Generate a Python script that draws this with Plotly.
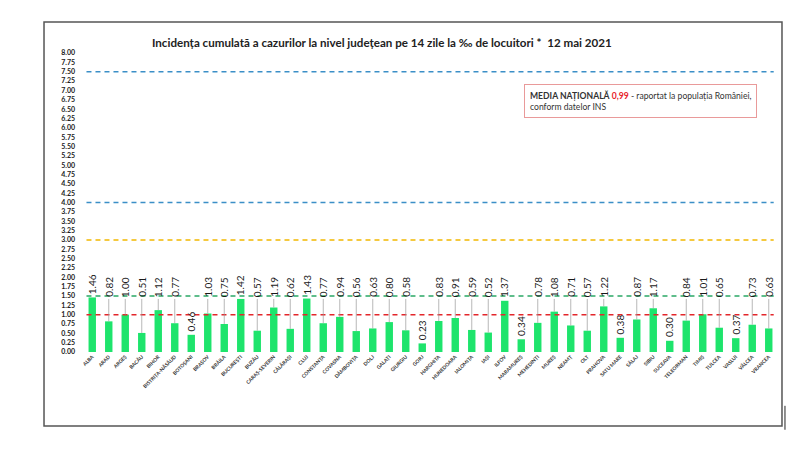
import plotly.graph_objects as go

judete = ['ALBA', 'ARAD', 'ARGEȘ', 'BACĂU', 'BIHOR', 'BISTRIȚA-NĂSĂUD', 'BOTOȘANI',
          'BRAȘOV', 'BRĂILA', 'BUCUREȘTI', 'BUZĂU', 'CARAȘ-SEVERIN', 'CĂLĂRAȘI', 'CLUJ',
          'CONSTANȚA', 'COVASNA', 'DÂMBOVIȚA', 'DOLJ', 'GALAȚI', 'GIURGIU', 'GORJ',
          'HARGHITA', 'HUNEDOARA', 'IALOMIȚA', 'IAȘI', 'ILFOV', 'MARAMUREȘ', 'MEHEDINȚI',
          'MUREȘ', 'NEAMȚ', 'OLT', 'PRAHOVA', 'SATU MARE', 'SĂLAJ', 'SIBIU', 'SUCEAVA',
          'TELEORMAN', 'TIMIȘ', 'TULCEA', 'VASLUI', 'VÂLCEA', 'VRANCEA']

incidenta = [1.46, 0.82, 1.00, 0.51, 1.12, 0.77, 0.46, 1.03, 0.75, 1.42, 0.57, 1.19,
             0.62, 1.43, 0.77, 0.94, 0.56, 0.63, 0.80, 0.58, 0.23, 0.83, 0.91, 0.59,
             0.52, 1.37, 0.34, 0.78, 1.08, 0.71, 0.57, 1.22, 0.38, 0.87, 1.17, 0.30,
             0.84, 1.01, 0.65, 0.37, 0.73, 0.63]

# praguri orizontale (valoare, culoare)
praguri = [(7.5, '#3b8fc7'), (4.0, '#3b8fc7'), (3.0, '#f2b800'), (1.5, '#2aa866'), (1.0, '#e3262b')]

media_nationala = '0,99'
y_ticks = [i * 0.25 for i in range(33)]

FONT = 'Lato'

fig = go.Figure()
fig.add_trace(go.Bar(
    x=judete, y=incidenta,
    marker=dict(color='#1ee46c', line=dict(width=0)),
    hoverinfo='x+y',
))

shapes = []
for val, col in praguri:
    shapes.append(dict(type='line', xref='x', yref='y', x0=-0.35, x1=41.3, y0=val, y1=val,
                       line=dict(color=col, width=1.5, dash='5px,4px')))

annotations = []
for i, (j, v) in enumerate(zip(judete, incidenta)):
    # etichetele mutate mai sus au linie de legatura
    if v >= 0.5 and v < 1.3:
        base = 1.42
        shapes.append(dict(type='line', xref='x', yref='y', x0=i, x1=i, y0=v, y1=base,
                           line=dict(color='#999999', width=0.7)))
    else:
        base = v + 0.04
    annotations.append(dict(x=i, y=base, xref='x', yref='y', text=f'{v:.2f}',
                            showarrow=False, textangle=-90, yanchor='bottom',
                            xanchor='center', font=dict(family=FONT, size=10, color='#1a1a1a')))

annotations.append(dict(
    xref='paper', yref='y', x=0.635, y=7.17, xanchor='left', yanchor='top',
    text=('<b>MEDIA NAȚIONALĂ</b> <b><span style="color:#e8232a">' + media_nationala +
          '</span></b> - raportat la populația României,<br>conform datelor INS'),
    showarrow=False, align='left', bordercolor='#e99a9a', borderwidth=1, borderpad=5,
    bgcolor='white', font=dict(family=FONT, size=8.6, color='#333333')))

# chenar exterior
shapes.append(dict(type='rect', xref='paper', yref='paper', x0=-0.0577, x1=1.0072,
                   y0=-0.2475, y1=1.1037, line=dict(color='#555555', width=1.5)))
shapes.append(dict(type='line', xref='paper', yref='paper', x0=1.0115, x1=1.0115,
                   y0=-0.26, y1=-0.18, line=dict(color='#222222', width=1)))

# pagina are o margine de 8px in browser, de aceea figura e mai mica
fig.update_layout(
    width=792, height=445,
    margin=dict(l=76, r=23, t=45, b=101),
    paper_bgcolor='white', plot_bgcolor='white',
    showlegend=False, bargap=0.55,
    title=dict(text='Incidența cumulată a cazurilor la nivel județean pe 14 zile la ‰ de locuitori *  12 mai 2021',
               x=0.472, xanchor='center', y=0.921, yanchor='middle',
               font=dict(family=FONT, size=11.6, color='#222222', weight='bold')),
    shapes=shapes, annotations=annotations,
)
fig.update_xaxes(tickangle=-45, tickfont=dict(family=FONT, size=5, color='#333333', weight='bold'),
                 showgrid=False, showline=False, ticks='', range=[-0.5, 41.5])
fig.update_yaxes(range=[0, 8], tickvals=y_ticks, tickformat='.2f', showgrid=False,
                 zeroline=False, showline=False, ticks='', ticklabelstandoff=8,
                 tickfont=dict(family=FONT, size=7, color='#222222', weight='bold'))

fig.write_html('out.html')
